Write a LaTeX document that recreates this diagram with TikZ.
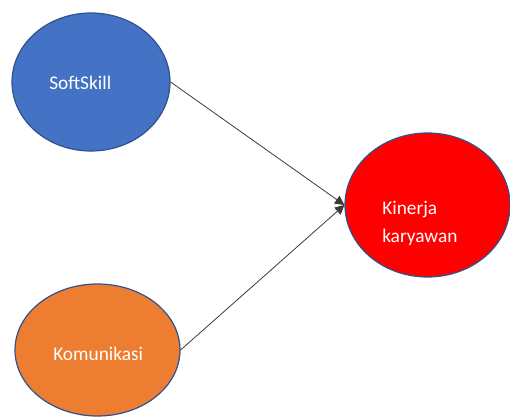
\documentclass[tikz,border=0pt]{standalone}
\usepackage{fontspec}
\setmainfont{Carlito}
\usepackage{xcolor}
\definecolor{cBlue}{HTML}{4472C4}
\definecolor{cOrange}{HTML}{ED7D31}
\definecolor{cRed}{HTML}{FF0000}
\definecolor{cEdge}{HTML}{2F528F}
\definecolor{cLine}{HTML}{3A3A3A}
\usepackage{tikz}
\usetikzlibrary{positioning,arrows.meta,shapes.geometric}
\tikzset{
  node-var/.style={draw=cEdge,line width=0.9pt,ellipse,inner sep=0pt},
  node-soft/.style={node-var,fill=cBlue,minimum width=118.5pt,minimum height=103.5pt},
  node-kom/.style={node-var,fill=cOrange,minimum width=123.75pt,minimum height=99pt},
  node-kin/.style={node-var,fill=cRed,minimum width=123.75pt,minimum height=108pt},
  node-text/.style={text=white,inner sep=0pt,align=left,
    font=\fontsize{14.5}{21}\selectfont},
  arrow/.style={-{Triangle[length=7pt,width=7pt]},line width=0.6pt,draw=cLine},
}
\begin{document}
\begin{tikzpicture}[x=0.75pt,y=-0.75pt]
  \useasboundingbox (0,0) rectangle (510,417);
  \node[node-soft] (soft) at (91,82) {};
  \node[node-kom]  (kom)  at (97.5,350) {};
  \node[node-kin]  (kin)  at (427.5,205) {};
  \node[node-text,anchor=west]       (soft-txt) at (49,83)   {SoftSkill};
  \node[node-text,anchor=west]       (kom-txt)  at (53,354)  {Komunikasi};
  \node[node-text,anchor=north west] (kin-txt)  at (382,201) {Kinerja\\karyawan};
  \draw[arrow] (soft.east) -- (kin.west);
  \draw[arrow] (kom.east) -- (kin.west);
\end{tikzpicture}
\end{document}
